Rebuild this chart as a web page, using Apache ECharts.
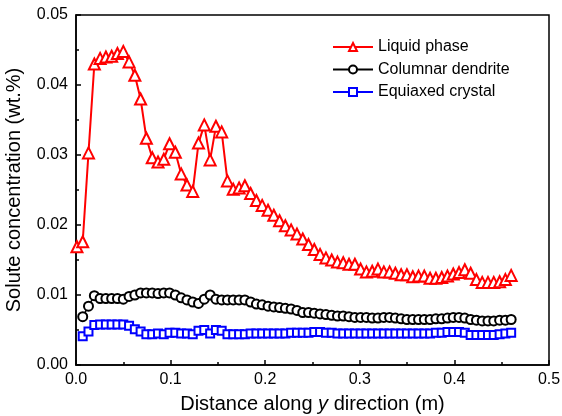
<!DOCTYPE html>
<html>
<head>
<meta charset="utf-8">
<script src="https://cdn.jsdelivr.net/npm/echarts@6/dist/echarts.min.js"></script>
<style>
  html, body { margin: 0; padding: 0; background: #fff; }
  #chart { width: 562px; height: 416px; }
</style>
</head>
<body>
<div id="chart"></div>
<script>
// distance along y (m), shared by all three series
const xs = [
  0.0010, 0.0071, 0.0132, 0.0194, 0.0255, 0.0316, 0.0377, 0.0438, 0.0500, 0.0561,
  0.0622, 0.0683, 0.0744, 0.0806, 0.0867, 0.0928, 0.0989, 0.1050, 0.1112, 0.1173,
  0.1234, 0.1295, 0.1356, 0.1418, 0.1479, 0.1540, 0.1601, 0.1662, 0.1724, 0.1785,
  0.1846, 0.1907, 0.1968, 0.2030, 0.2091, 0.2152, 0.2213, 0.2274, 0.2336, 0.2397,
  0.2458, 0.2519, 0.2580, 0.2642, 0.2703, 0.2764, 0.2825, 0.2886, 0.2948, 0.3009,
  0.3070, 0.3131, 0.3192, 0.3254, 0.3315, 0.3376, 0.3437, 0.3498, 0.3560, 0.3621,
  0.3682, 0.3743, 0.3804, 0.3866, 0.3927, 0.3988, 0.4049, 0.4110, 0.4172, 0.4233,
  0.4294, 0.4355, 0.4416, 0.4478, 0.4539, 0.4600
];

const liquid = [
  0.0169, 0.0176, 0.0303, 0.0430, 0.0438, 0.0440, 0.0441, 0.0445, 0.0448, 0.0433,
  0.0414, 0.0380, 0.0324, 0.0296, 0.0290, 0.0294, 0.0316, 0.0304, 0.0273, 0.0257,
  0.0248, 0.0317, 0.0343, 0.0293, 0.0341, 0.0333, 0.0263, 0.0251, 0.0253, 0.0256,
  0.0245, 0.0235, 0.0228, 0.0221, 0.0214, 0.0206, 0.0199, 0.0193, 0.0187, 0.0180,
  0.0172, 0.0165, 0.0158, 0.0153, 0.0150, 0.0147, 0.0146, 0.0144, 0.0144, 0.0137,
  0.0133, 0.0134, 0.0137, 0.0133, 0.0133, 0.0131, 0.0129, 0.0129, 0.0126, 0.0127,
  0.0127, 0.0124, 0.0124, 0.0125, 0.0127, 0.0130, 0.0132, 0.0136, 0.0131, 0.0122,
  0.0118, 0.0118, 0.0118, 0.0119, 0.0122, 0.0128
];

const columnar = [
  null, 0.0069, 0.0084, 0.0099, 0.0095, 0.0095, 0.0095, 0.0095, 0.0094, 0.0098,
  0.0100, 0.0103, 0.0103, 0.0103, 0.0102, 0.0103, 0.0103, 0.0100, 0.0096, 0.0093,
  0.0090, 0.0088, 0.0094, 0.0100, 0.0094, 0.0093, 0.0093, 0.0093, 0.0093, 0.0093,
  0.0090, 0.0087, 0.0086, 0.0084, 0.0083, 0.0082, 0.0081, 0.0080, 0.0078, 0.0075,
  0.0075, 0.0074, 0.0073, 0.0072, 0.0071, 0.0070, 0.0070, 0.0069, 0.0068, 0.0068,
  0.0068, 0.0067, 0.0067, 0.0068, 0.0068, 0.0067, 0.0066, 0.0065, 0.0065, 0.0065,
  0.0065, 0.0065, 0.0066, 0.0066, 0.0067, 0.0068, 0.0068, 0.0067, 0.0065, 0.0064,
  0.0063, 0.0063, 0.0063, 0.0064, 0.0064, 0.0065
];

const equiaxed = [
  null, 0.0041, 0.0048, 0.0057, 0.0058, 0.0058, 0.0058, 0.0058, 0.0058, 0.0056,
  0.0051, 0.0048, 0.0044, 0.0044, 0.0045, 0.0044, 0.0046, 0.0046, 0.0045, 0.0045,
  0.0044, 0.0049, 0.0050, 0.0045, 0.0050, 0.0049, 0.0044, 0.0044, 0.0044, 0.0044,
  0.0045, 0.0045, 0.0045, 0.0045, 0.0045, 0.0045, 0.0045, 0.0046, 0.0046, 0.0046,
  0.0046, 0.0047, 0.0047, 0.0046, 0.0046, 0.0045, 0.0045, 0.0045, 0.0045, 0.0045,
  0.0045, 0.0045, 0.0045, 0.0045, 0.0045, 0.0045, 0.0045, 0.0045, 0.0045, 0.0045,
  0.0045, 0.0045, 0.0046, 0.0046, 0.0047, 0.0047, 0.0047, 0.0046, 0.0043, 0.0043,
  0.0043, 0.0043, 0.0043, 0.0044, 0.0045, 0.0046
];

const seriesNames = ["Liquid phase", "Columnar dendrite", "Equiaxed crystal"];

const font = "'Liberation Sans', Arial, sans-serif";

function pairs(ys) {
  return xs.map((x, i) => [x, ys[i]]);
}

const chart = echarts.init(document.getElementById("chart"));

function axisStyle() {
  return {
    axisLine: { show: true, onZero: false, lineStyle: { color: "#000", width: 1.5 } },
    axisTick: { show: true, inside: true, length: 5, lineStyle: { color: "#000", width: 1.5 } },
    minorTick: { show: true, splitNumber: 2, length: 3, lineStyle: { color: "#000", width: 1.5 } },
    splitLine: { show: false },
  };
}

const option = {
  animation: false,
  backgroundColor: "#fff",
  grid: {
    left: 76,
    right: 13,
    top: 15,
    bottom: 51,
    outerBoundsMode: "none",
    containLabel: false,
    show: true,
    borderColor: "#000",
    borderWidth: 1.5,
  },
  legend: {
    orient: "vertical",
    left: 327,
    top: 34,
    itemGap: 6.5,
    itemWidth: 40,
    itemHeight: 10,
    textStyle: { color: "#000", fontFamily: font, fontSize: 16 },
    data: seriesNames,
  },
  xAxis: {
    type: "value",
    min: 0,
    max: 0.5,
    interval: 0.1,
    name: "{n|Distance along }{i|y}{n| direction (m)}",
    nameLocation: "center",
    nameGap: 29,
    nameTextStyle: {
      rich: {
        n: { fontFamily: font, fontSize: 20, color: "#000" },
        i: { fontFamily: font, fontSize: 20, color: "#000", fontStyle: "italic" },
      },
    },
    ...axisStyle(),
    axisLabel: {
      color: "#000",
      fontFamily: font,
      fontSize: 16,
      margin: 7,
      formatter: (v) => v.toFixed(1),
    },
  },
  yAxis: {
    type: "value",
    min: 0,
    max: 0.05,
    interval: 0.01,
    name: "Solute concentration (wt.%)",
    nameLocation: "center",
    nameGap: 52,
    nameTextStyle: { color: "#000", fontFamily: font, fontSize: 20 },
    ...axisStyle(),
    axisLabel: {
      color: "#000",
      fontFamily: font,
      fontSize: 16,
      margin: 8,
      formatter: (v) => v.toFixed(2),
    },
  },
  series: [
    {
      name: seriesNames[0],
      type: "line",
      data: pairs(liquid),
      symbol: "emptyTriangle",
      symbolSize: 11,
      lineStyle: { color: "#ff0000", width: 2 },
      itemStyle: { color: "#ff0000", borderWidth: 1.2 },
      z: 3,
    },
    {
      name: seriesNames[1],
      type: "line",
      data: pairs(columnar),
      symbol: "emptyCircle",
      symbolSize: 9,
      lineStyle: { color: "#000", width: 1.5 },
      itemStyle: { color: "#000", borderWidth: 1 },
      z: 2,
    },
    {
      name: seriesNames[2],
      type: "line",
      data: pairs(equiaxed),
      symbol: "emptyRect",
      symbolSize: 8,
      lineStyle: { color: "#0000ff", width: 1.5 },
      itemStyle: { color: "#0000ff", borderWidth: 1 },
      z: 2,
    },
  ],
};

chart.setOption(option);
</script>
</body>
</html>
